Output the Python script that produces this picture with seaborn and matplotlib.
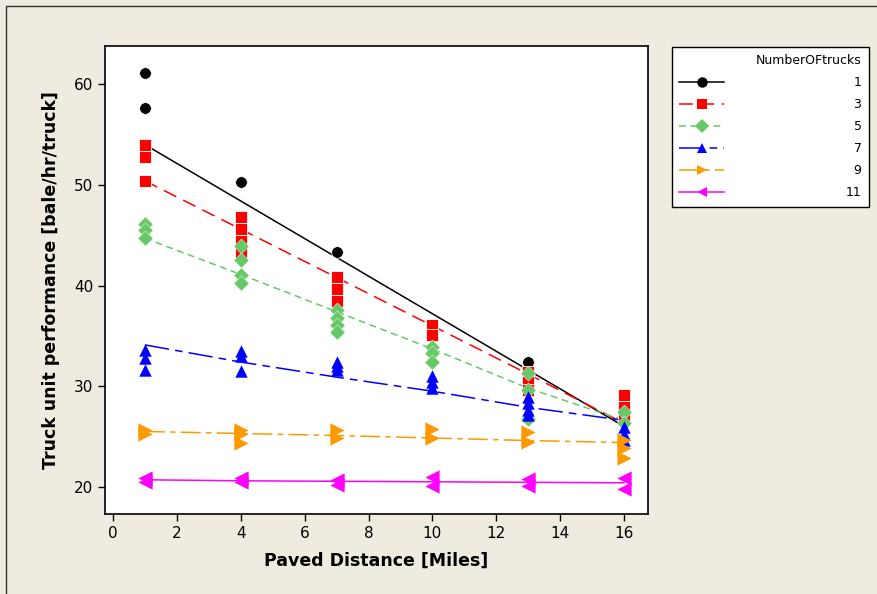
import numpy as np
import pandas as pd
import matplotlib
matplotlib.use('Agg')
import matplotlib.pyplot as plt
from matplotlib.lines import Line2D
from matplotlib.patches import Rectangle
import seaborn as sns

# data
distances = [1, 4, 7, 10, 13, 16]
trucks = [1, 3, 5, 7, 9, 11]

perf_1 = [[61.1, 57.6], [50.3], [43.3], [], [32.4], []]
perf_3 = [[54.0, 52.8, 50.4], [46.8, 45.6, 44.4, 43.3], [40.8, 39.7, 38.5],
          [36.1, 35.1], [31.4, 30.4, 29.6], [29.1, 27.9, 26.8]]
perf_5 = [[46.1, 45.5, 44.7], [43.9, 42.5, 41.0, 40.3], [37.6, 36.8, 36.1, 35.4],
          [33.9, 33.3, 32.4], [31.3, 29.6, 26.7], [27.4, 26.3]]
perf_7 = [[33.6, 32.8, 31.6], [33.5, 33.0, 31.5], [32.4, 32.0, 31.6],
          [31.0, 30.4, 29.8], [28.9, 28.3, 27.6, 27.1], [25.9, 25.2, 24.7]]
perf_9 = [[25.6, 25.2], [25.6, 25.2, 24.4], [25.6, 24.9], [25.7, 24.9],
          [25.4, 24.5], [24.7, 23.9, 22.9]]
perf_11 = [[20.9, 20.5], [20.9, 20.5], [20.7, 20.2], [21.0, 20.1],
           [20.8, 20.1], [20.9, 19.8]]

fit_1 = [54.0, 48.4, 42.8, 37.2, 31.6, 26.0]
fit_3 = [50.4, 45.6, 40.8, 36.0, 31.2, 26.3]
fit_5 = [44.7, 41.1, 37.4, 33.7, 29.8, 26.6]
fit_7 = [34.1, 32.4, 30.9, 29.5, 27.9, 26.6]
fit_9 = [25.5, 25.3, 25.1, 24.85, 24.6, 24.4]
fit_11 = [20.7, 20.6, 20.55, 20.5, 20.45, 20.4]

perfs = [perf_1, perf_3, perf_5, perf_7, perf_9, perf_11]
fits = [fit_1, fit_3, fit_5, fit_7, fit_9, fit_11]

pts = pd.DataFrame([(t, d, v) for t, p in zip(trucks, perfs)
                    for d, vals in zip(distances, p) for v in vals],
                   columns=['trucks', 'dist', 'perf'])
lines = pd.DataFrame([(t, d, v) for t, f in zip(trucks, fits)
                      for d, v in zip(distances, f)],
                     columns=['trucks', 'dist', 'fit'])

colors = {1: 'black', 3: '#ff0000', 5: '#66c866', 7: '#0000ff', 9: '#ff9900', 11: '#ff00ff'}
markers = {1: 'o', 3: 's', 5: 'D', 7: '^', 9: '>', 11: '<'}
sizes = {1: 70, 3: 75, 5: 60, 7: 80, 9: 105, 11: 105}
edges = {1: 0.5, 3: 0.6, 5: 0.3, 7: 0, 9: 0, 11: 0}
dashes = {1: '', 3: (9, 5), 5: (4.5, 3), 7: (16, 4, 5, 4), 9: (13, 3.5, 3.5, 3.5), 11: ''}

fig = plt.figure(figsize=(8.78, 5.94), dpi=100)
fig.patch.set_facecolor('#efebe1')
ax = fig.add_axes([105 / 878, 1 - 514 / 594, 543 / 878, 468 / 594])
ax.set_facecolor('white')

sns.lineplot(data=lines, x='dist', y='fit', hue='trucks', style='trucks',
             palette=colors, dashes=dashes, linewidth=1.1, legend=False, ax=ax,
             zorder=2)
for t in trucks:
    sub = pts[pts['trucks'] == t]
    sns.scatterplot(data=sub, x='dist', y='perf', color=colors[t], marker=markers[t],
                    s=sizes[t], linewidth=edges[t], edgecolor='white', legend=False,
                    ax=ax, zorder=3)

ax.set_xlim(-0.25, 16.75)
ax.set_ylim(17.3, 63.8)
ax.set_xticks(range(0, 17, 2))
ax.set_yticks([20, 30, 40, 50, 60])
ax.tick_params(direction='out', length=5, width=1, labelsize=11, colors='black')
for s in ax.spines.values():
    s.set_linewidth(1.2)
    s.set_color('black')
ax.set_xlabel('Paved Distance [Miles]', fontsize=12.5, fontweight='bold', labelpad=8)
ax.set_ylabel('Truck unit performance [bale/hr/truck]', fontsize=12.5,
              fontweight='bold', labelpad=10)

handles = [Line2D([], [], color=colors[t], marker=markers[t], markersize=7.5,
                  linewidth=1.1, markeredgewidth=0,
                  linestyle='-' if dashes[t] == '' else (0, dashes[t]))
           for t in trucks]
labels = [str(t).rjust(2, '\u2007') for t in trucks]
leg = ax.legend(handles, labels, title='NumberOFtrucks',
                loc='upper left', bbox_to_anchor=(672 / 878, 1 - 47 / 594),
                bbox_transform=fig.transFigure, borderaxespad=0,
                fontsize=9, title_fontsize=9,
                alignment='right', handlelength=3.6, handletextpad=9.7,
                labelspacing=0.72, borderpad=0.6, fancybox=False,
                framealpha=1, edgecolor='black')
leg.get_frame().set_linewidth(1.0)

fig.add_artist(Rectangle((6 / 878, -0.05), 1.2, 1 - 6 / 594 + 0.05,
                         transform=fig.transFigure, fill=False,
                         edgecolor='#333333', linewidth=1))

fig.savefig('out.png', dpi=100, facecolor=fig.get_facecolor())
